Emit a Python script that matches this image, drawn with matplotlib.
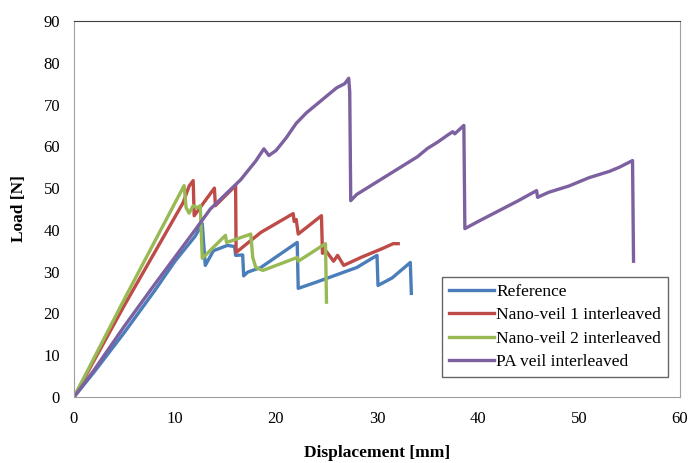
import matplotlib.pyplot as plt

# Reference
ref_x = [0, 2, 5, 8, 10, 12, 12.7, 12.8, 13.0, 13.8, 15.2, 15.9, 16.0, 16.7, 16.8,
         17.2, 18.5, 20, 22.1, 22.2, 24, 26.4, 28, 30.0, 30.1, 31.5, 33.3, 33.4]
ref_y = [0, 6, 15.5, 25.5, 32.5, 38.5, 41.5, 38, 31.5, 35.0, 36.3, 36.0, 33.9, 34, 29,
         29.9, 31, 33.5, 37, 26, 27.5, 29.6, 31, 33.9, 26.7, 28.5, 32.2, 24.8]

# Nano-veil 1 interleaved
nv1_x = [0, 5, 10.8, 11.4, 11.8, 11.9, 13.9, 14.0, 16.0, 16.05, 18.5, 21.7, 21.8, 22.0,
         22.2, 24.5, 24.6, 25.0, 25.7, 26.1, 26.7, 28.5, 30.5, 31.6, 32.1]
nv1_y = [0, 22, 46.5, 50.5, 51.8, 43.4, 50, 45.8, 50.6, 34.6, 39.4, 43.9, 42, 42.5,
         39, 43.4, 34.4, 34.8, 32.5, 33.9, 31.5, 33.5, 35.5, 36.7, 36.7]

# Nano-veil 2 interleaved
nv2_x = [0, 5, 10.9, 11.1, 11.4, 11.8, 12.2, 12.5, 12.7, 15.0, 15.1, 15.5, 17.5, 17.7,
         18.0, 18.7, 22.1, 22.2, 24.9, 25.0]
nv2_y = [0, 23.5, 50.6, 45.3, 44, 45.8, 45.3, 45.8, 33.2, 38.7, 37, 37.3, 39, 33.4,
         31, 30.3, 33.4, 32.5, 36.7, 22.7]

# PA veil interleaved
pa_x = [0, 2, 5, 8, 10, 12, 13.5, 15, 16.5, 18, 18.8, 19.3, 20, 21, 22, 23, 24, 25,
        26, 26.8, 27.2, 27.3, 27.4, 28, 30, 32, 34, 35, 36, 37, 37.5, 37.7, 38.6,
        38.7, 40, 42, 44, 45.8, 45.9, 47, 49, 51, 53, 54, 55.3, 55.4]
pa_y = [0, 6.5, 17, 27, 33.5, 40, 45, 48.5, 52, 56.5, 59.4, 57.8, 59, 62, 65.5, 68,
        70, 72, 74, 75, 76.3, 73, 47, 48.5, 51.5, 54.5, 57.5, 59.5, 61, 62.7, 63.5,
        63, 65, 40.3, 42, 44.5, 47, 49.4, 47.8, 49, 50.5, 52.5, 54, 55, 56.6, 32.5]

labels = ['Reference', 'Nano-veil 1 interleaved', 'Nano-veil 2 interleaved', 'PA veil interleaved']
colors = ['#4A7EBB', '#BE4B48', '#98B954', '#7D60A0']

plt.rcParams['font.family'] = ['Liberation Serif', 'DejaVu Serif']

fig = plt.figure(figsize=(6.88, 4.63), dpi=100)
ax = fig.add_axes([74/688, 1-397/463, 606/688, 376/463])

for xs, ys, lab, col in zip([ref_x, nv1_x, nv2_x, pa_x], [ref_y, nv1_y, nv2_y, pa_y], labels, colors):
    ax.plot(xs, ys, color=col, lw=2.4, label=lab)

ax.set_xlim(0, 60)
ax.set_ylim(0, 90)
ax.set_xticks(range(0, 61, 10))
ax.set_yticks(range(0, 91, 10))
ax.tick_params(length=0, labelsize=12, pad=10)

for s in ['left', 'right', 'bottom']:
    ax.spines[s].set_color('#a0a0a0')
ax.spines['top'].set_color('#404040')

ax.set_xlabel('Displacement [mm]', fontsize=12.5, fontweight='bold', labelpad=13)
ax.set_ylabel('Load [N]', fontsize=12.5, fontweight='bold', labelpad=12)

leg = ax.legend(loc='lower right', bbox_to_anchor=(0.995, 0.03), fontsize=12.5,
                frameon=True, fancybox=False, edgecolor='#404040', borderpad=0.4,
                handlelength=2.6, labelspacing=0.42, handletextpad=0.15)
leg.get_frame().set_linewidth(1.0)

fig.savefig('out.png', dpi=100)
